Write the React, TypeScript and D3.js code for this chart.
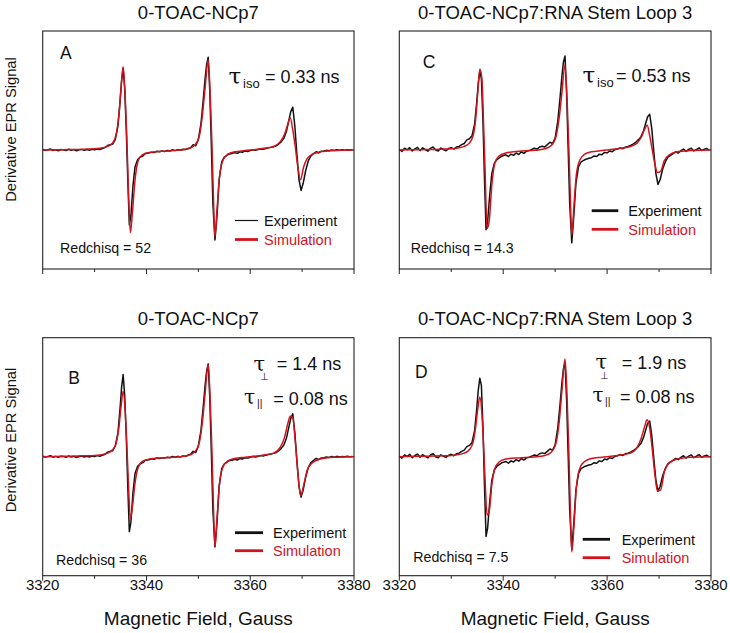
import React from 'react';
import * as d3 from 'd3';

// ---------- DATA ----------
const SIM_FIELD = [3320, 3324, 3328, 3331, 3332.5, 3333.5, 3334.2, 3334.7, 3335.1, 3335.5, 3335.9, 3336.2, 3336.5, 3336.9, 3337.3, 3337.8, 3338.4, 3339.2, 3340.5, 3343, 3346, 3348, 3349.3, 3350.2, 3350.8, 3351.3, 3351.9, 3352.3, 3352.6, 3352.9, 3353.2, 3353.6, 3354.1, 3354.8, 3355.7, 3357, 3359, 3362, 3364.5, 3365.8, 3366.6, 3367.2, 3367.7, 3368.2, 3368.7, 3369.2, 3369.7, 3370.3, 3371, 3372, 3373.5, 3376, 3380];

const SIM_A = [0, 0.3, 0.7, 1.5, 3, 6, 14, 30, 52, 70, 45, 12, -30, -69.5, -52, -25, -9, -4, -2, -1, -0.3, 1, 4, 12, 30, 52, 75.6, 45, 8, -38, -73, -50, -22, -8, -3.5, -1.5, -0.5, 1, 3, 7, 13, 21, 27, 17, 2, -15, -25, -14, -7, -3.5, -1.5, -0.5, 0];
const SIM_B = [0, 0.3, 0.7, 1.5, 3, 6, 12, 25, 42, 55, 38, 12, -20, -52.5, -42, -22, -9, -4, -2, -1, -0.3, 1, 4, 12, 30, 53, 77.7, 46, 8, -40, -76, -52, -22, -8, -3.5, -1.5, -0.5, 1, 3, 8, 16, 27, 34, 33, 12, -14, -33, -24, -11, -5, -2, -0.5, 0];
const SIM_C = [0, 0.3, 0.7, 1.5, 3, 6, 12, 26, 48, 68, 60, 25, -15, -66, -60, -30, -11, -5, -2.5, -1, -0.3, 1, 4, 12, 28, 48, 71.4, 42, 6, -36, -71.4, -48, -20, -8, -3.5, -1.5, -0.5, 1, 3, 6, 11, 17, 21, 12, 0, -12, -19, -18, -9, -4, -1.5, -0.5, 0];
const SIM_D = [0, 0.3, 0.7, 1.5, 3, 6, 12, 25, 40, 50, 36, 12, -18, -49, -46, -24, -10, -4.5, -2, -1, -0.3, 1, 4, 12, 30, 55, 82, 50, 10, -40, -80, -60, -25, -9, -4, -1.5, -0.5, 1, 3, 8, 16, 25, 31, 24, 6, -15, -29, -28, -13, -5, -2, -0.5, 0];

const EXP_FIELD = [
  3320, 3320.5, 3321, 3321.5, 3322, 3322.5, 3323, 3323.5, 3324, 3324.5, 3325, 3325.5, 3326, 3326.5, 3327, 3327.5, 3328, 3328.5, 3329, 3329.5, 3330, 3330.5, 3331,
  3331.5, 3332, 3332.5, 3333, 3333.5, 3334, 3334.5,
  3334.9, 3335.2, 3335.5, 3335.8, 3336.1, 3336.4, 3336.7, 3337.0, 3337.4, 3337.8, 3338.3, 3338.8, 3339.3, 3339.8,
  3340.5, 3341, 3341.5, 3342, 3342.5, 3343, 3343.5, 3344, 3344.5, 3345, 3345.5, 3346, 3346.5, 3347, 3347.5, 3348,
  3348.5, 3349, 3349.5, 3350, 3350.5, 3350.9, 3351.3, 3351.6, 3351.9, 3352.2, 3352.5, 3352.8, 3353.2, 3353.6, 3354.0, 3354.5, 3355.0, 3355.4, 3355.8,
  3356.5, 3357, 3357.5, 3358, 3358.5, 3359, 3359.5, 3360, 3360.5, 3361, 3361.5, 3362, 3362.5, 3363, 3363.5, 3364, 3364.5,
  3365, 3365.5, 3366, 3366.5, 3367, 3367.4, 3367.8, 3368.2, 3368.6, 3369.0, 3369.4, 3369.8, 3370.2, 3370.7, 3371.2, 3371.7, 3372.2,
  3372.7, 3373.2, 3373.7, 3374.2, 3374.7, 3375.2, 3375.7, 3376.2, 3376.7, 3377.2, 3377.7, 3378.2, 3378.7, 3379.2, 3379.7,
];

// experiment, 0-TOAC-NCp7 (panels A, B)
const EXP_NCP7 = [
  0.5, -0.3, 0.2, 0.8, -0.4, 0.3, -0.6, 0.4, 0.1, -0.5, 0.6, -0.2, 0.3, -0.7, 0.2, 0.5, -0.3, 0.4, -0.2, 0.6, 0.1, 0.9, 0.4,
  1.2, 2.0, 3.8, 4.5, 5.0, 9, 20,
  40, 58, 69, 52, 18, -25, -63, -55, -30, -14, -8, -6, -5, -3,
  -2.5, -1.8, -2.2, -1.0, -1.5, -0.8, -1.2, -0.4, -0.9, 0.2, -0.5, 0.3, -0.2, 0.6, 0.4, 1.2,
  2.0, 4.5, 3.5, 9, 22, 40, 60, 72, 78, 50, 5, -45, -75.6, -55, -25, -10, -6, -5, -3.5,
  -3, -2.2, -2.8, -1.5, -1.9, -0.8, -1.2, -0.5, 0.2, -0.3, 0.4, 0.9, 0.6, 1.3, 1.8, 2.2, 2.8,
  3.5, 5, 7, 10, 16, 24, 32, 36, 20, -4, -25, -34, -28, -17, -9, -5, -3,
  -1.5, -2.5, -1, -0.8, -0.3, -0.6, 0.1, -0.4, 0.3, -0.2, 0.2, -0.1, 0.3, 0, 0.2,
];

// experiment, 0-TOAC-NCp7:RNA Stem Loop 3 (panels C, D)
const EXP_SL3 = [
  0.5, -1.2, 1.5, 0.2, 2.0, -0.8, 1.0, 2.2, -0.5, 1.8, 0.3, -1.0, 1.4, 2.5, 0.0, -0.9, 1.6, 0.4, -0.6, 1.2, 2.0, 0.8, 2.5,
  3.0, 4.5, 5.5, 8.5, 9.5, 12, 22,
  40, 56, 66, 60, 25, -25, -67, -60, -38, -20, -11, -8, -6.5, -5,
  -4, -5.5, -3.5, -4.5, -2.5, -3.8, -1.5, -2.8, -1.0, -0.5, 0.5, 1.5, 0.8, 2.5, 3.2, 2.6,
  4.5, 6.5, 5.5, 10, 24, 42, 62, 74, 79, 48, 2, -45, -78, -55, -28, -14, -10, -9, -8,
  -7, -6.5, -5, -5.5, -3.5, -4, -2, -2.5, -0.8, -1.5, 0.3, 0.8, 1.8, 1.0, 2.4, 3.0, 3.8,
  5, 6.5, 8.5, 11, 16, 22, 28, 30, 18, -2, -20, -29, -25, -16, -10, -6, -4.5,
  -3, -1.5, -2.5, -0.5, 0.8, -1.2, 0.5, 1.5, -0.8, 0.4, 1.8, -0.5, 0.6, 1.2, -0.3,
];

const X_TICKS = [3320, 3330, 3340, 3350, 3360, 3370, 3380];
const X_TICK_LABELS = [3320, 3340, 3360, 3380];
const TITLES = ['0-TOAC-NCp7', '0-TOAC-NCp7:RNA Stem Loop 3'];
const LETTERS = ['A', 'B', 'C', 'D'];
const REDCHISQ = ['52', '36', '14.3', '7.5'];
const SERIES_NAMES = ['Experiment', 'Simulation'];

// ---------- STYLE / LAYOUT ----------
const RED = '#d0141e';
const FONT = '"Liberation Sans", Arial, Helvetica, sans-serif';
const TAU_FONT = '"DejaVu Serif", "Liberation Serif", serif';

const PANELS = [
  {
    key: 'A', left: 42.7, right: 354, top: 31, bottom: 269, exp: EXP_NCP7, sim: SIM_A, title: TITLES[0],
    letter: [60, 59.3], chi: [60, 253.3], chiText: REDCHISQ[0], labels: false,
    legend: { x1: 235, x2: 258, tx: 264, y1: 220.5, y2: 239.5, thinExp: true },
    tau: 'iso', tauVal: '= 0.33 ns', tauPos: { tx: 228.5, ty: 84, sx: 243, sy: 87.5, vx: 265, vy: 83 },
  },
  {
    key: 'B', left: 42.7, right: 354, top: 337.7, bottom: 575.7, exp: EXP_NCP7, sim: SIM_B, title: TITLES[0],
    letter: [68.3, 384], chi: [56, 565], chiText: REDCHISQ[1], labels: true,
    legend: { x1: 235, x2: 263, tx: 273, y1: 532.7, y2: 550.7, thinExp: false },
    aniso: { perp: '= 1.4 ns', par: '= 0.08 ns', t1x: 253.5, t1y: 371, p1x: 260, p1y: 380, v1x: 276.7, v1y: 370, t2x: 244, t2y: 403.5, p2x: 257, p2y: 406.5, v2x: 273.3, v2y: 405 },
  },
  {
    key: 'C', left: 399.3, right: 711, top: 31, bottom: 269, exp: EXP_SL3, sim: SIM_C, title: TITLES[1],
    letter: [422.7, 68.3], chi: [410.7, 253.3], chiText: REDCHISQ[2], labels: false,
    legend: { x1: 591.7, x2: 618.3, tx: 628.3, y1: 210.7, y2: 229.3, thinExp: false },
    tau: 'iso', tauVal: '= 0.53 ns', tauPos: { tx: 582.5, ty: 83, sx: 597, sy: 86.5, vx: 616, vy: 81.7 },
  },
  {
    key: 'D', left: 399.3, right: 711, top: 337.7, bottom: 575.7, exp: EXP_SL3, sim: SIM_D, title: TITLES[1],
    letter: [415, 378.3], chi: [413.3, 561.7], chiText: REDCHISQ[3], labels: true,
    legend: { x1: 582.7, x2: 610, tx: 621.7, y1: 539.3, y2: 557.7, thinExp: false },
    aniso: { perp: '= 1.9 ns', par: '= 0.08 ns', t1x: 595.5, t1y: 369, p1x: 600, p1y: 378.5, v1x: 621.7, v1y: 368.5, t2x: 592.5, t2y: 402, p2x: 605, p2y: 405, v2x: 620, v2y: 403.3 },
  },
];

function Panel({ p, idx }: { p: any; idx: number }) {
  const x = d3.scaleLinear().domain([3320, 3380]).range([p.left, p.right]);
  const y = d3.scaleLinear().domain([-100, 100]).range([p.bottom, p.top]);
  const expLine = d3.line<number>().x((_, i) => x(EXP_FIELD[i])).y((d) => y(d)).curve(d3.curveLinear);
  const simLine = d3.line<number>().x((_, i) => x(SIM_FIELD[i])).y((d) => y(d)).curve(d3.curveMonotoneX);
  const cx = (p.left + p.right) / 2;
  const clipId = `clip-${p.key}`;
  const lg = p.legend;
  return (
    <g>
      <defs>
        <clipPath id={clipId}>
          <rect x={p.left} y={p.top} width={p.right - p.left} height={p.bottom - p.top} />
        </clipPath>
      </defs>
      <text x={cx} y={p.top - 12.5} textAnchor="middle" fontSize={18.5} fill="#111">{p.title}</text>
      <g clipPath={`url(#${clipId})`}>
        <path d={expLine(p.exp) || ''} fill="none" stroke="#111" strokeWidth={1.5} strokeLinejoin="round" />
        <path d={simLine(p.sim) || ''} fill="none" stroke={RED} strokeWidth={1.5} strokeLinejoin="round" />
      </g>
      <rect x={p.left} y={p.top} width={p.right - p.left} height={p.bottom - p.top} fill="none" stroke="#222" strokeWidth={1.1} />
      {X_TICKS.map((t) => {
        const major = (t - 3320) % 20 === 0;
        return <line key={t} x1={x(t)} x2={x(t)} y1={p.bottom} y2={p.bottom + (major ? 5 : 3)} stroke="#222" strokeWidth={1} />;
      })}
      {p.labels && X_TICK_LABELS.map((t) => (
        <text key={t} x={x(t)} y={p.bottom + 14.5} textAnchor="middle" fontSize={15} fill="#111">{t}</text>
      ))}
      {p.labels && (
        <text x={cx} y={625} textAnchor="middle" fontSize={19} fill="#111">Magnetic Field, Gauss</text>
      )}
      <text x={p.letter[0]} y={p.letter[1]} fontSize={17.5} fill="#111">{LETTERS[idx]}</text>
      <text x={p.chi[0]} y={p.chi[1]} fontSize={14.2} fill="#111">Redchisq = {p.chiText}</text>
      {/* legend */}
      <line x1={lg.x1} x2={lg.x2} y1={lg.y1} y2={lg.y1} stroke="#111" strokeWidth={lg.thinExp ? 1.2 : 2.8} />
      <text x={lg.tx} y={lg.y1 + 5.2} fontSize={14.5} fill="#111">{SERIES_NAMES[0]}</text>
      <line x1={lg.x1} x2={lg.x2} y1={lg.y2} y2={lg.y2} stroke={RED} strokeWidth={2.8} />
      <text x={lg.tx} y={lg.y2 + 5.2} fontSize={14.5} fill={RED}>{SERIES_NAMES[1]}</text>
      {p.tau && (
        <text fill="#111">
          <tspan x={p.tauPos.tx} y={p.tauPos.ty} fontSize={23} fontFamily={TAU_FONT}>τ</tspan>
          <tspan x={p.tauPos.sx} y={p.tauPos.sy} fontSize={13}>{p.tau}</tspan>
          <tspan x={p.tauPos.vx} y={p.tauPos.vy} fontSize={18}>{p.tauVal}</tspan>
        </text>
      )}
      {p.aniso && (
        <g fill="#111">
          <text>
            <tspan x={p.aniso.t1x} y={p.aniso.t1y} fontSize={21} fontFamily={TAU_FONT}>τ</tspan>
            <tspan x={p.aniso.p1x} y={p.aniso.p1y} fontSize={10} fontFamily="DejaVu Sans">⊥</tspan>
          </text>
          <text x={p.aniso.v1x} y={p.aniso.v1y} fontSize={18}>{p.aniso.perp}</text>
          <text>
            <tspan x={p.aniso.t2x} y={p.aniso.t2y} fontSize={20} fontFamily={TAU_FONT}>τ</tspan>
            <tspan x={p.aniso.p2x} y={p.aniso.p2y} fontSize={10.5}>||</tspan>
          </text>
          <text x={p.aniso.v2x} y={p.aniso.v2y} fontSize={18}>{p.aniso.par}</text>
        </g>
      )}
    </g>
  );
}

export default function App() {
  return (
    <svg
      width={730}
      height={633}
      viewBox="0 0 730 633"
      style={{ position: 'absolute', left: 0, top: 0, background: '#fff', fontFamily: FONT }}
    >
      <rect x={0} y={0} width={730} height={633} fill="#fff" />
      <text transform="translate(16,129.5) rotate(-90)" textAnchor="middle" fontSize={14.7} fill="#111">Derivative EPR Signal</text>
      <text transform="translate(16,440) rotate(-90)" textAnchor="middle" fontSize={14.7} fill="#111">Derivative EPR Signal</text>
      {PANELS.map((p, i) => (
        <Panel key={p.key} p={p} idx={i} />
      ))}
    </svg>
  );
}
